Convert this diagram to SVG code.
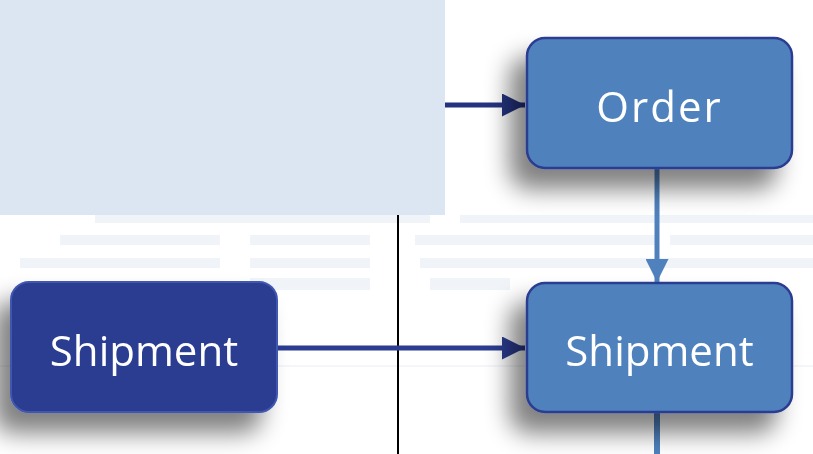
<svg xmlns="http://www.w3.org/2000/svg" width="813" height="454" viewBox="0 0 813 454">
<defs>
<filter id="sh" x="-40%" y="-40%" width="180%" height="200%">
<feGaussianBlur in="SourceAlpha" stdDeviation="12"/>
<feOffset dx="-16" dy="20" result="b"/>
<feComponentTransfer><feFuncA type="linear" slope="0.5"/></feComponentTransfer>
<feMerge><feMergeNode/><feMergeNode in="SourceGraphic"/></feMerge>
</filter>
<marker id="ahDark" viewBox="0 0 10 10" refX="10" refY="5" markerWidth="5" markerHeight="4.6" markerUnits="strokeWidth" orient="auto">
<path d="M0,0 L10,5 L0,10 z" fill="#23337F"/>
</marker>
<marker id="ahMid" viewBox="0 0 10 10" refX="10" refY="5" markerWidth="5" markerHeight="4.6" markerUnits="strokeWidth" orient="auto">
<path d="M0,0 L10,5 L0,10 z" fill="#2B3C91"/>
</marker>
<marker id="ahLight" viewBox="0 0 10 10" refX="10" refY="5" markerWidth="5" markerHeight="4.6" markerUnits="strokeWidth" orient="auto">
<path d="M0,0 L10,5 L0,10 z" fill="#4F81BD"/>
</marker>
</defs>
<style>
.lbl{font-family:"Open Sans","DejaVu Sans",sans-serif;font-size:42px;fill:#FFFFFF;text-anchor:middle}
.light{fill:#4F81BD;stroke:#2B3C91;stroke-width:2.5}
.dark{fill:#2B3C91;stroke:#3F57B0;stroke-width:2}
.wm{fill:#F0F3F8}
</style>
<rect width="813" height="454" fill="#FFFFFF"/>
<g id="watermark">
<rect class="wm" x="95" y="215" width="335" height="8"/>
<rect class="wm" x="460" y="215" width="353" height="8"/>
<rect class="wm" x="60" y="235" width="160" height="10"/>
<rect class="wm" x="250" y="235" width="120" height="10"/>
<rect class="wm" x="415" y="235" width="240" height="10"/>
<rect class="wm" x="670" y="235" width="143" height="10"/>
<rect class="wm" x="20" y="258" width="200" height="10"/>
<rect class="wm" x="250" y="258" width="120" height="10"/>
<rect class="wm" x="420" y="258" width="393" height="10"/>
<rect class="wm" x="250" y="278" width="120" height="12"/>
<rect class="wm" x="430" y="278" width="80" height="12"/>
<rect x="0" y="365" width="813" height="2" fill="#F4F6F9"/>
</g>
<rect id="panel" x="0" y="0" width="445" height="215" fill="#DCE6F2"/>
<line id="divider" x1="398" y1="215" x2="398" y2="454" stroke="#000000" stroke-width="2"/>
<g id="connectors" fill="none">
<line x1="445" y1="105" x2="525" y2="105" stroke="#23337F" stroke-width="5" marker-end="url(#ahDark)"/>
<line x1="278" y1="348" x2="525" y2="348" stroke="#2B3C91" stroke-width="5" marker-end="url(#ahMid)"/>
<line x1="657" y1="168" x2="657" y2="282" stroke="#4F81BD" stroke-width="5" marker-end="url(#ahLight)"/>
<line x1="657" y1="412" x2="657" y2="454" stroke="#4F81BD" stroke-width="6"/>
</g>
<g id="node-order" filter="url(#sh)">
<rect class="light" x="527" y="38" width="265" height="130" rx="18"/>
<text class="lbl" x="659.5" y="122" letter-spacing="2">Order</text>
</g>
<g id="node-shipment-right" filter="url(#sh)">
<rect class="light" x="527" y="283" width="265" height="129" rx="18"/>
<text class="lbl" x="659.5" y="366">Shipment</text>
</g>
<g id="node-shipment-left" filter="url(#sh)">
<rect class="dark" x="11" y="282" width="266" height="130" rx="18"/>
<text class="lbl" x="144" y="366">Shipment</text>
</g>
</svg>
